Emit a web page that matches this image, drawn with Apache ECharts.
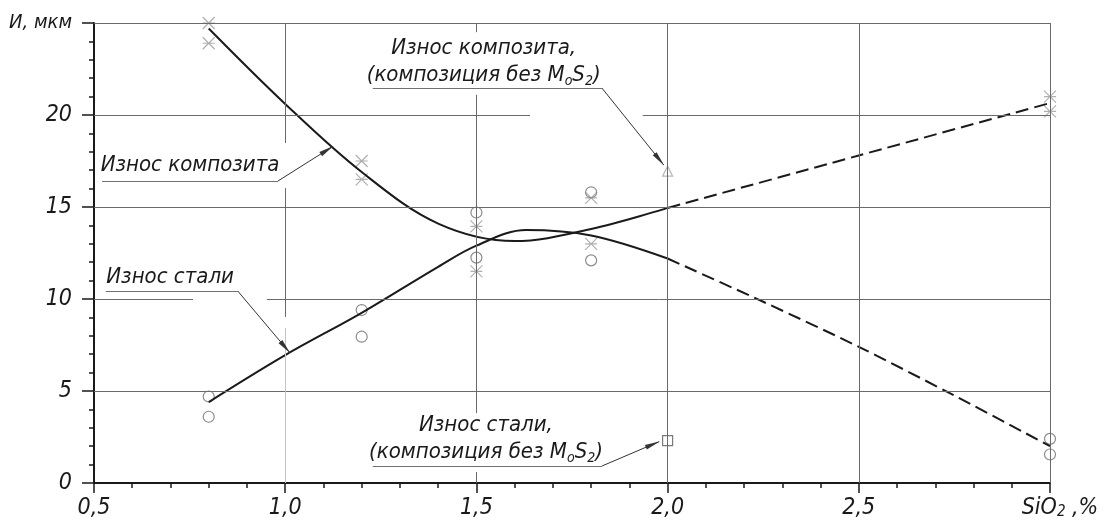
<!DOCTYPE html>
<html>
<head>
<meta charset="utf-8">
<script src="https://cdn.jsdelivr.net/npm/echarts@6/dist/echarts.min.js"></script>
<style>
  html, body { margin: 0; padding: 0; background: #fff; }
  #chart { width: 1106px; height: 521px; }
</style>
</head>
<body>
<div id="chart"></div>
<script>
// Wear (И, мкм) versus SiO2 content (%)

// fitted curves, solid part
const compositeX = [0.8, 1.0, 1.2, 1.4, 1.6, 1.8, 2.0];
const compositeWear = [24.7, 20.6, 16.9, 14.1, 13.15, 13.8, 14.95];
const steelX = [0.8, 1.0, 1.2, 1.4, 1.5, 1.63, 1.8, 2.0];
const steelWear = [4.4, 6.95, 9.25, 11.75, 12.9, 13.75, 13.45, 12.2];

// extrapolated (dashed) part
const compositeExtX = [2.0, 2.5, 3.0];
const compositeExtWear = [14.95, 17.8, 20.65];
const steelExtX = [2.0, 2.25, 2.5, 2.75, 3.0];
const steelExtWear = [12.2, 9.85, 7.4, 4.75, 2.0];

// measured points
const compositePtsX = [0.8, 0.8, 1.2, 1.2, 1.5, 1.5, 1.8, 1.8, 3.0, 3.0];
const compositePtsY = [25.0, 23.9, 17.5, 16.5, 13.95, 11.5, 15.5, 13.0, 21.0, 20.2];
const steelPtsX = [0.8, 0.8, 1.2, 1.2, 1.5, 1.5, 1.8, 1.8, 3.0, 3.0];
const steelPtsY = [4.7, 3.6, 9.4, 7.95, 14.7, 12.25, 15.8, 12.1, 2.4, 1.55];

// composition without MoS2
const compositeNoMoS2X = [2.0];
const compositeNoMoS2Y = [16.95];
const steelNoMoS2X = [2.0];
const steelNoMoS2Y = [2.3];

// tick labels
const xTickLabels = ['0,5', '1,0', '1,5', '2,0', '2,5', '{p|SiO}{b|2}{a| ,%}'];
const yTickLabels = ['0', '5', '10', '15', '20', '{u|И, мкм}'];

// callout texts
const noteTexts = [
  'Износ композита',
  'Износ композита,\n(композиция без M{s|o}S{s|2})',
  'Износ стали',
  'Износ стали,\n(композиция без M{s|o}S{s|2})'
];

// ---- layout (axis units) ----
const noteAnchors = [[0.751, 17.28], [1.519, 22.9], [0.699, 11.2], [1.525, 2.42]];
// underline start, underline end, arrow tip
const noteLeaders = [
  [[0.521, 16.41], [0.981, 16.41], [1.125, 18.3]],
  [[1.229, 21.47], [1.828, 21.47], [1.99, 17.28]],
  [[0.531, 10.43], [0.876, 10.43], [1.012, 7.08]],
  [[1.229, 0.92], [1.828, 0.92], [1.978, 2.25]]
];
// grid segments with breaks where callouts sit
const gridSegs = [
  [[0.5, 25], [3.0, 25]],
  [[0.5, 20], [1.64, 20]], [[1.935, 20], [3.0, 20]],
  [[0.5, 15], [3.0, 15]],
  [[0.5, 10], [0.759, 10]], [[0.952, 10], [3.0, 10]],
  [[0.5, 5], [3.0, 5]],
  [[1.0, 25], [1.0, 18.48]], [[1.0, 16.03], [1.0, 9.02]],
  [[1.5, 25], [1.5, 24.5]], [[1.5, 21.1], [1.5, 3.8]], [[1.5, 0.6], [1.5, 0]],
  [[2.0, 25], [2.0, 0]],
  [[2.5, 25], [2.5, 0]],
  [[3.0, 25], [3.0, 0]]
];
const gridSegsFaint = [
  [[1.0, 8.42], [1.0, 0]]
];

const FONT = "'Liberation Sans Narrow', 'DejaVu Sans Condensed', sans-serif";
const INK = '#1a1a1a';

const zip = (xs, ys) => xs.map((x, i) => [x, ys[i]]);
const seg = (list) => list.map(s => [{ coord: s[0] }, { coord: s[1] }]);

const asterisk = 'path://M0,0L12,12M12,0L0,12M0,6L12,6';

const chart = echarts.init(document.getElementById('chart'), null, { renderer: 'canvas' });

const option = {
  animation: false,
  backgroundColor: '#fff',
  grid: { left: 94, right: 56, top: 23, bottom: 38, containLabel: false, outerBoundsMode: 'none' },
  xAxis: {
    type: 'value', min: 0.5, max: 3.0, interval: 0.5,
    axisLine: { show: true, onZero: false, lineStyle: { color: INK, width: 2 } },
    axisTick: { show: true, length: 10, lineStyle: { color: INK, width: 1.5 } },
    minorTick: { show: true, splitNumber: 5, length: 5, lineStyle: { color: INK, width: 1.5 } },
    splitLine: { show: false },
    axisLabel: {
      margin: 14, color: INK, fontFamily: FONT, fontStyle: 'italic', fontSize: 23,
      showMinLabel: true, showMaxLabel: true,
      formatter: (v) => xTickLabels[Math.round((v - 0.5) / 0.5)],
      rich: {
        p: { fontFamily: FONT, fontStyle: 'italic', fontSize: 23, color: INK, padding: [0, 0, 0, 20] },
        a: { fontFamily: FONT, fontStyle: 'italic', fontSize: 23, color: INK },
        b: { fontFamily: FONT, fontStyle: 'italic', fontSize: 15, color: INK, verticalAlign: 'bottom' }
      }
    }
  },
  yAxis: {
    type: 'value', min: 0, max: 25, interval: 5,
    axisLine: { show: true, onZero: false, lineStyle: { color: INK, width: 2 } },
    axisTick: { show: true, length: 12, lineStyle: { color: INK, width: 1.5 } },
    minorTick: { show: true, splitNumber: 5, length: 5, lineStyle: { color: INK, width: 1.5 } },
    splitLine: { show: false },
    axisLabel: {
      margin: 22, color: INK, fontFamily: FONT, fontStyle: 'italic', fontSize: 23,
      showMinLabel: true, showMaxLabel: true,
      formatter: (v) => yTickLabels[Math.round(v / 5)],
      rich: {
        u: { fontFamily: FONT, fontStyle: 'italic', fontSize: 20, color: INK }
      }
    }
  },
  series: [
    {
      name: 'grid', type: 'line', data: [], z: 1, silent: true,
      markLine: {
        silent: true, symbol: 'none', label: { show: false }, emphasis: { disabled: true },
        lineStyle: { color: '#6a6a6a', width: 1, type: 'solid' },
        data: seg(gridSegs)
      }
    },
    {
      name: 'gridFaint', type: 'line', data: [], z: 1, silent: true,
      markLine: {
        silent: true, symbol: 'none', label: { show: false }, emphasis: { disabled: true },
        lineStyle: { color: '#c4c4c4', width: 1, type: 'solid' },
        data: seg(gridSegsFaint)
      }
    },
    {
      name: 'composite points', type: 'scatter', z: 2, silent: true,
      symbol: asterisk, symbolSize: 12,
      itemStyle: { color: 'transparent', borderColor: '#b0b0b0', borderWidth: 1.2, opacity: 1 },
      data: zip(compositePtsX, compositePtsY)
    },
    {
      name: 'steel points', type: 'scatter', z: 2, silent: true,
      symbol: 'circle', symbolSize: 11,
      itemStyle: { color: 'transparent', borderColor: '#8c8c8c', borderWidth: 1.2, opacity: 1 },
      data: zip(steelPtsX, steelPtsY)
    },
    {
      name: 'composite without MoS2', type: 'scatter', z: 2, silent: true,
      symbol: 'triangle', symbolSize: 10,
      itemStyle: { color: 'transparent', borderColor: '#b8b8b8', borderWidth: 1.2, opacity: 1 },
      data: zip(compositeNoMoS2X, compositeNoMoS2Y)
    },
    {
      name: 'steel without MoS2', type: 'scatter', z: 2, silent: true,
      symbol: 'rect', symbolSize: 10,
      itemStyle: { color: 'transparent', borderColor: '#7a7a7a', borderWidth: 1.2, opacity: 1 },
      data: zip(steelNoMoS2X, steelNoMoS2Y)
    },
    {
      name: 'composite wear', type: 'line', z: 3, silent: true, smooth: 0.35,
      showSymbol: false, lineStyle: { color: INK, width: 2 },
      data: zip(compositeX, compositeWear)
    },
    {
      name: 'steel wear', type: 'line', z: 3, silent: true, smooth: 0.35,
      showSymbol: false, lineStyle: { color: INK, width: 2 },
      data: zip(steelX, steelWear)
    },
    {
      name: 'composite wear ext', type: 'line', z: 3, silent: true, smooth: 0.3,
      showSymbol: false, lineStyle: { color: INK, width: 2, type: [13, 6] },
      data: zip(compositeExtX, compositeExtWear)
    },
    {
      name: 'steel wear ext', type: 'line', z: 3, silent: true, smooth: 0.3,
      showSymbol: false, lineStyle: { color: INK, width: 2, type: [13, 6] },
      data: zip(steelExtX, steelExtWear)
    },
    {
      name: 'underlines', type: 'line', data: [], z: 4, silent: true,
      markLine: {
        silent: true, symbol: 'none', label: { show: false }, emphasis: { disabled: true },
        lineStyle: { color: '#707070', width: 1.2, type: 'solid' },
        data: noteLeaders.map(l => [{ coord: l[0] }, { coord: l[1] }])
      }
    },
    {
      name: 'leaders', type: 'line', data: [], z: 4, silent: true,
      markLine: {
        silent: true, symbol: 'none', label: { show: false }, emphasis: { disabled: true },
        lineStyle: { color: '#333', width: 1, type: 'solid' },
        data: noteLeaders.map(l => [
          { coord: l[1] },
          { coord: l[2], symbol: 'triangle', symbolSize: [5, 15], symbolOffset: [0, 7] }
        ])
      }
    },
    {
      name: 'notes', type: 'scatter', z: 5, silent: true,
      symbolSize: 0,
      itemStyle: { opacity: 1 },
      data: noteAnchors,
      label: {
        show: true, position: 'inside', align: 'center', verticalAlign: 'middle',
        color: INK, fontFamily: FONT, fontStyle: 'italic', fontSize: 22, lineHeight: 27,
        formatter: (p) => noteTexts[p.dataIndex],
        rich: {
          s: { fontFamily: FONT, fontStyle: 'italic', fontSize: 14, color: INK, verticalAlign: 'bottom', lineHeight: 27 }
        }
      }
    }
  ]
};

chart.setOption(option);
</script>
</body>
</html>
